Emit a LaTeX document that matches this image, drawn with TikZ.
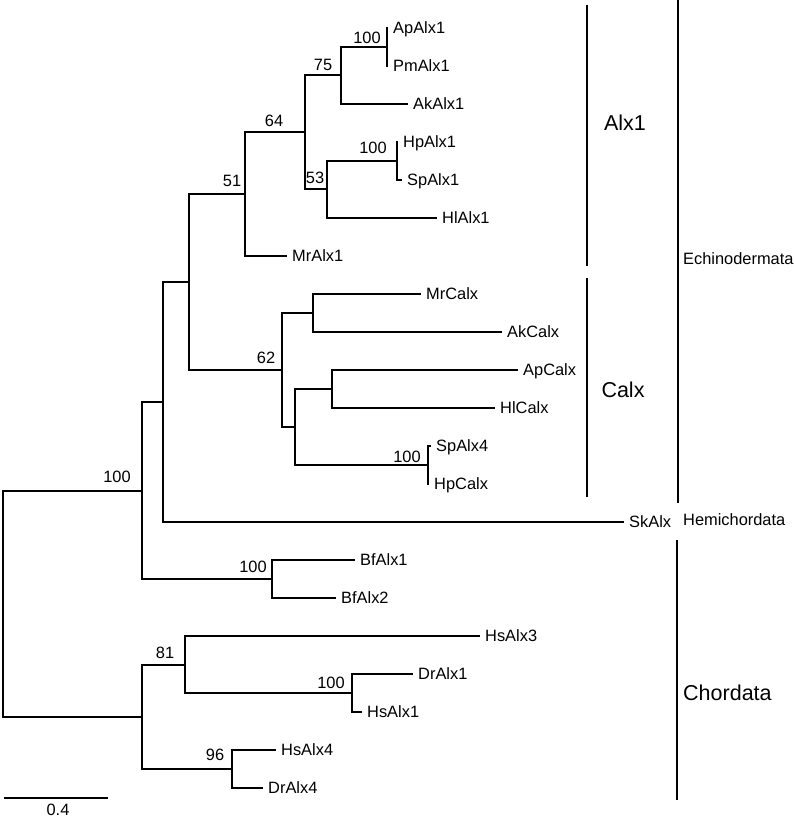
\documentclass[tikz,border=0pt]{standalone}
\usepackage{fontspec}
\setmainfont{Liberation Sans}
\begin{document}
\begin{tikzpicture}[x=1pt,y=-1pt,
  br/.style={line width=1.9pt,line cap=butt,line join=miter},
  bar/.style={line width=2.8pt},
  leaf/.style={anchor=west,inner xsep=5pt,inner ysep=0pt,text height=11.7pt,text depth=0pt,font=\fontsize{16.4}{18}\selectfont},
  sup/.style={anchor=center,inner sep=0pt,text height=11.7pt,text depth=0pt,font=\fontsize{16.4}{18}\selectfont},
  grp/.style={anchor=west,inner sep=0pt,text height=11.7pt,text depth=0pt,font=\fontsize{16.4}{18}\selectfont},
  big/.style={inner sep=0pt,text height=15.4pt,text depth=0pt,font=\fontsize{21.5}{24}\selectfont}]
\useasboundingbox (0,0) rectangle (793,818);

% leaves (line end, y)
\node[leaf] (ApAlx1) at (388,28)  {ApAlx1};
\node[leaf] (PmAlx1) at (388,66)  {PmAlx1};
\node[leaf] (AkAlx1) at (408,104) {AkAlx1};
\node[leaf] (HpAlx1) at (398,142) {HpAlx1};
\node[leaf] (SpAlx1) at (402,180) {SpAlx1};
\node[leaf] (HlAlx1) at (437,218) {HlAlx1};
\node[leaf] (MrAlx1) at (287,256) {MrAlx1};
\node[leaf] (MrCalx) at (421,294) {MrCalx};
\node[leaf] (AkCalx) at (502,332) {AkCalx};
\node[leaf] (ApCalx) at (518,370) {ApCalx};
\node[leaf] (HlCalx) at (495,408) {HlCalx};
\node[leaf] (SpAlx4) at (431,446) {SpAlx4};
\node[leaf] (HpCalx) at (429,484) {HpCalx};
\node[leaf] (SkAlx)  at (624,522) {SkAlx};
\node[leaf] (BfAlx1) at (355,560) {BfAlx1};
\node[leaf] (BfAlx2) at (336,598) {BfAlx2};
\node[leaf] (HsAlx3) at (480,636) {HsAlx3};
\node[leaf] (DrAlx1) at (413,674) {DrAlx1};
\node[leaf] (HsAlx1) at (362,712) {HsAlx1};
\node[leaf] (HsAlx4) at (276,750) {HsAlx4};
\node[leaf] (DrAlx4) at (263,788) {DrAlx4};

% internal nodes
\coordinate (n387) at (387,47);
\coordinate (n397) at (397,161);
\coordinate (n327) at (327,189);
\coordinate (n341) at (341,75);
\coordinate (n304) at (305,132);
\coordinate (n245) at (245,194);
\coordinate (n313) at (313,313);
\coordinate (n332) at (332,389);
\coordinate (n428) at (428,465);
\coordinate (n295) at (295,427);
\coordinate (n282) at (282,370);
\coordinate (n189) at (189,282);
\coordinate (n163) at (163,402);
\coordinate (n272) at (272,579);
\coordinate (n142a) at (142,491);
\coordinate (n352) at (352,693);
\coordinate (n185) at (185,665);
\coordinate (n232) at (232,769);
\coordinate (n142b) at (142,717);
\coordinate (root) at (3,604);

% branches
\draw[br] (n387) |- (ApAlx1.west);
\draw[br] (n387) |- (PmAlx1.west);
\draw[br] (n341) |- (n387);
\draw[br] (n341) |- (AkAlx1.west);
\draw[br] (n397) |- (HpAlx1.west);
\draw[br] (n397) |- (SpAlx1.west);
\draw[br] (n327) |- (n397);
\draw[br] (n327) |- (HlAlx1.west);
\draw[br] (n304) |- (n341);
\draw[br] (n304) |- (n327);
\draw[br] (n245) |- (n304);
\draw[br] (n245) |- (MrAlx1.west);
\draw[br] (n313) |- (MrCalx.west);
\draw[br] (n313) |- (AkCalx.west);
\draw[br] (n332) |- (ApCalx.west);
\draw[br] (n332) |- (HlCalx.west);
\draw[br] (n428) |- (SpAlx4.west);
\draw[br] (n428) |- (HpCalx.west);
\draw[br] (n295) |- (n332);
\draw[br] (n295) |- (n428);
\draw[br] (n282) |- (n313);
\draw[br] (n282) |- (n295);
\draw[br] (n189) |- (n245);
\draw[br] (n189) |- (n282);
\draw[br] (n163) |- (n189);
\draw[br] (n163) |- (SkAlx.west);
\draw[br] (n272) |- (BfAlx1.west);
\draw[br] (n272) |- (BfAlx2.west);
\draw[br] (n142a) |- (n163);
\draw[br] (n142a) |- (n272);
\draw[br] (n352) |- (DrAlx1.west);
\draw[br] (n352) |- (HsAlx1.west);
\draw[br] (n185) |- (HsAlx3.west);
\draw[br] (n185) |- (n352);
\draw[br] (n232) |- (HsAlx4.west);
\draw[br] (n232) |- (DrAlx4.west);
\draw[br] (n142b) |- (n185);
\draw[br] (n142b) |- (n232);
\draw[br] (root) |- (n142a);
\draw[br] (root) |- (n142b);

% support values
\node[sup] (s387) at (367,38) {100};
\node[sup] (s341) at (323,65) {75};
\node[sup] (s304) at (274,121) {64};
\node[sup] (s245) at (232,181) {51};
\node[sup] (s327) at (315,178) {53};
\node[sup] (s397) at (373,148) {100};
\node[sup] (s282) at (266,358) {62};
\node[sup] (s428) at (407,457) {100};
\node[sup] (s142a) at (117,477) {100};
\node[sup] (s272) at (253,567) {100};
\node[sup] (s185) at (165,653) {81};
\node[sup] (s352) at (331,683) {100};
\node[sup] (s232) at (215,755) {96};

% group bars
\coordinate (a1t) at (587,5);   \coordinate (a1b) at (587,266);
\coordinate (cat) at (587,278); \coordinate (cab) at (587,497);
\coordinate (ect) at (678,0);   \coordinate (ecb) at (678,503);
\coordinate (cht) at (677,540); \coordinate (chb) at (677,800);
\draw[bar] (a1t) -- (a1b);
\draw[bar] (cat) -- (cab);
\draw[bar] (ect) -- (ecb);
\draw[bar] (cht) -- (chb);
\node[big] (lAlx1) at (625,123) {Alx1};
\node[big] (lCalx) at (623,390) {Calx};
\node[big,anchor=west] (lChor) at (683,693) {Chordata};
\node[grp] (lEch) at (683,259) {Echinodermata};
\node[grp] (lHemi) at (683,520) {Hemichordata};

% scale bar
\coordinate (sbl) at (4,798); \coordinate (sbr) at (108,798);
\draw[br] (sbl) -- (sbr);
\node[sup] (sbt) at (58,810) {0.4};
\end{tikzpicture}
\end{document}
